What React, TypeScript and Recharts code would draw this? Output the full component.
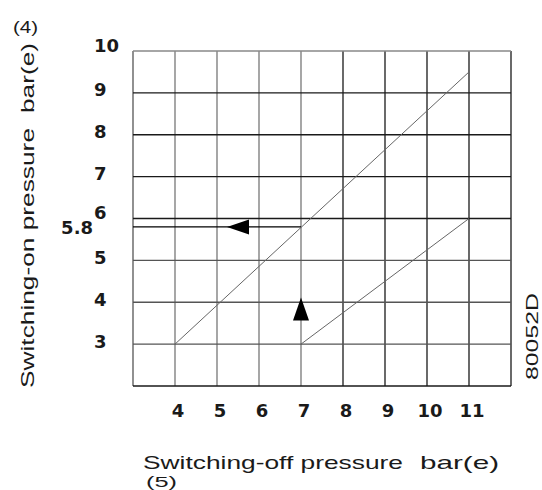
import { ComposedChart, Line, Scatter, XAxis, YAxis, ReferenceLine, Customized } from 'recharts'

const xTicks = [4, 5, 6, 7, 8, 9, 10, 11]
const yTicks = [3, 4, 5, 5.8, 6, 7, 8, 9, 10]
const gridX = [3, 4, 5, 6, 7, 8, 9, 10, 11, 12]
const gridY = [2, 3, 4, 5, 6, 7, 8, 9, 10]

// switching-on vs switching-off pressure bands
const upperLine = [{ x: 4, y: 3 }, { x: 11, y: 9.5 }]
const lowerLine = [{ x: 7, y: 3 }, { x: 11, y: 6 }]
const readLine = [{ x: 3, y: 5.8 }, { x: 7, y: 5.8 }]
const arrows = [
  { x: 5.5, y: 5.8, dir: 'left' },
  { x: 7, y: 3.84, dir: 'up' },
]

const TICK_FONT = '"DejaVu Sans", sans-serif'
const LABEL_FONT = '"Liberation Sans", Arial, sans-serif'
const INK = '#1a1a1a'

const vColor = (v: number) => (v >= 8 ? '#1a1a1a' : v === 3 ? '#555' : '#777')
const hColor = (v: number) => (v === 10 ? '#888' : v >= 6 || v === 2 ? '#1a1a1a' : '#555')

function XTick(p: any) {
  return (
    <text x={p.x + 3} y={p.y + 30.5} textAnchor="middle" fontFamily={TICK_FONT} fontWeight="bold" fontSize={18} fill={INK}>
      {p.payload.value}
    </text>
  )
}

function YTick(p: any) {
  const v = p.payload.value
  if (v === 5.8) {
    return (
      <text x={p.x - 40} y={p.y + 7.5} textAnchor="end" fontFamily={TICK_FONT} fontWeight="bold" fontSize={18} fill={INK}>
        5.8
      </text>
    )
  }
  const dy = v === 10 || v === 6 ? 0.5 : 3.5
  return (
    <text x={p.x - 39} y={p.y + dy} textAnchor="start" fontFamily={TICK_FONT} fontWeight="bold" fontSize={18} fill={INK}>
      {v}
    </text>
  )
}

function Arrow(p: any) {
  const { cx, cy, payload } = p
  if (payload.dir === 'left') {
    return <polygon points={`${cx - 11},${cy} ${cx + 11},${cy - 7.5} ${cx + 11},${cy + 7.5}`} fill="#000" />
  }
  return <polygon points={`${cx},${cy - 11.5} ${cx - 8},${cy + 11.5} ${cx + 8},${cy + 11.5}`} fill="#000" />
}

// rotated text reading bottom-to-top, starting at (x, y)
function VText({ x, y, len, size, children }: any) {
  return (
    <text x={x} y={y} transform={`rotate(-90, ${x}, ${y})`} fontSize={size} textLength={len} lengthAdjust="spacingAndGlyphs">
      {children}
    </text>
  )
}

function Labels() {
  return (
    <g fontFamily={LABEL_FONT} fill={INK}>
      <text x={13} y={33} fontSize={17} textLength={25} lengthAdjust="spacingAndGlyphs">(4)</text>
      <VText x={34} y={388} len={260} size={19}>Switching-on pressure</VText>
      <VText x={34} y={113} len={70} size={19}>bar(e)</VText>
      <text x={143} y={469} fontSize={19} textLength={260} lengthAdjust="spacingAndGlyphs">Switching-off pressure</text>
      <text x={420} y={469} fontSize={19} textLength={79} lengthAdjust="spacingAndGlyphs">bar(e)</text>
      <text x={146} y={487} fontSize={15} textLength={31} lengthAdjust="spacingAndGlyphs">(5)</text>
      <VText x={538} y={380} len={87} size={17}>80052D</VText>
    </g>
  )
}

export default function App() {
  return (
    <div style={{ position: 'absolute', left: 0, top: 0, background: '#fff' }}>
      <ComposedChart width={542} height={490} margin={{ top: 51, right: 31, bottom: 74, left: 93 }}>
        <XAxis
          dataKey="x"
          type="number"
          domain={[3, 12]}
          ticks={xTicks}
          interval={0}
          axisLine={false}
          tickLine={false}
          tickSize={0}
          tickMargin={0}
          height={30}
          tick={<XTick />}
          allowDataOverflow
        />
        <YAxis
          type="number"
          domain={[2, 10]}
          ticks={yTicks}
          interval={0}
          axisLine={false}
          tickLine={false}
          tickSize={0}
          tickMargin={0}
          width={40}
          tick={<YTick />}
          allowDataOverflow
        />
        {gridX.map((v) => (
          <ReferenceLine key={'x' + v} x={v} stroke={vColor(v)} strokeWidth={1.3} />
        ))}
        {gridY.map((v) => (
          <ReferenceLine key={'y' + v} y={v} stroke={hColor(v)} strokeWidth={1.3} />
        ))}
        <Line data={readLine} dataKey="y" stroke="#000" strokeWidth={1.4} dot={false} isAnimationActive={false} />
        <Line data={upperLine} dataKey="y" stroke="#666" strokeWidth={1} dot={false} isAnimationActive={false} />
        <Line data={lowerLine} dataKey="y" stroke="#666" strokeWidth={1} dot={false} isAnimationActive={false} />
        <Scatter data={arrows} dataKey="y" shape={<Arrow />} isAnimationActive={false} />
        <Customized component={Labels} />
      </ComposedChart>
    </div>
  )
}
